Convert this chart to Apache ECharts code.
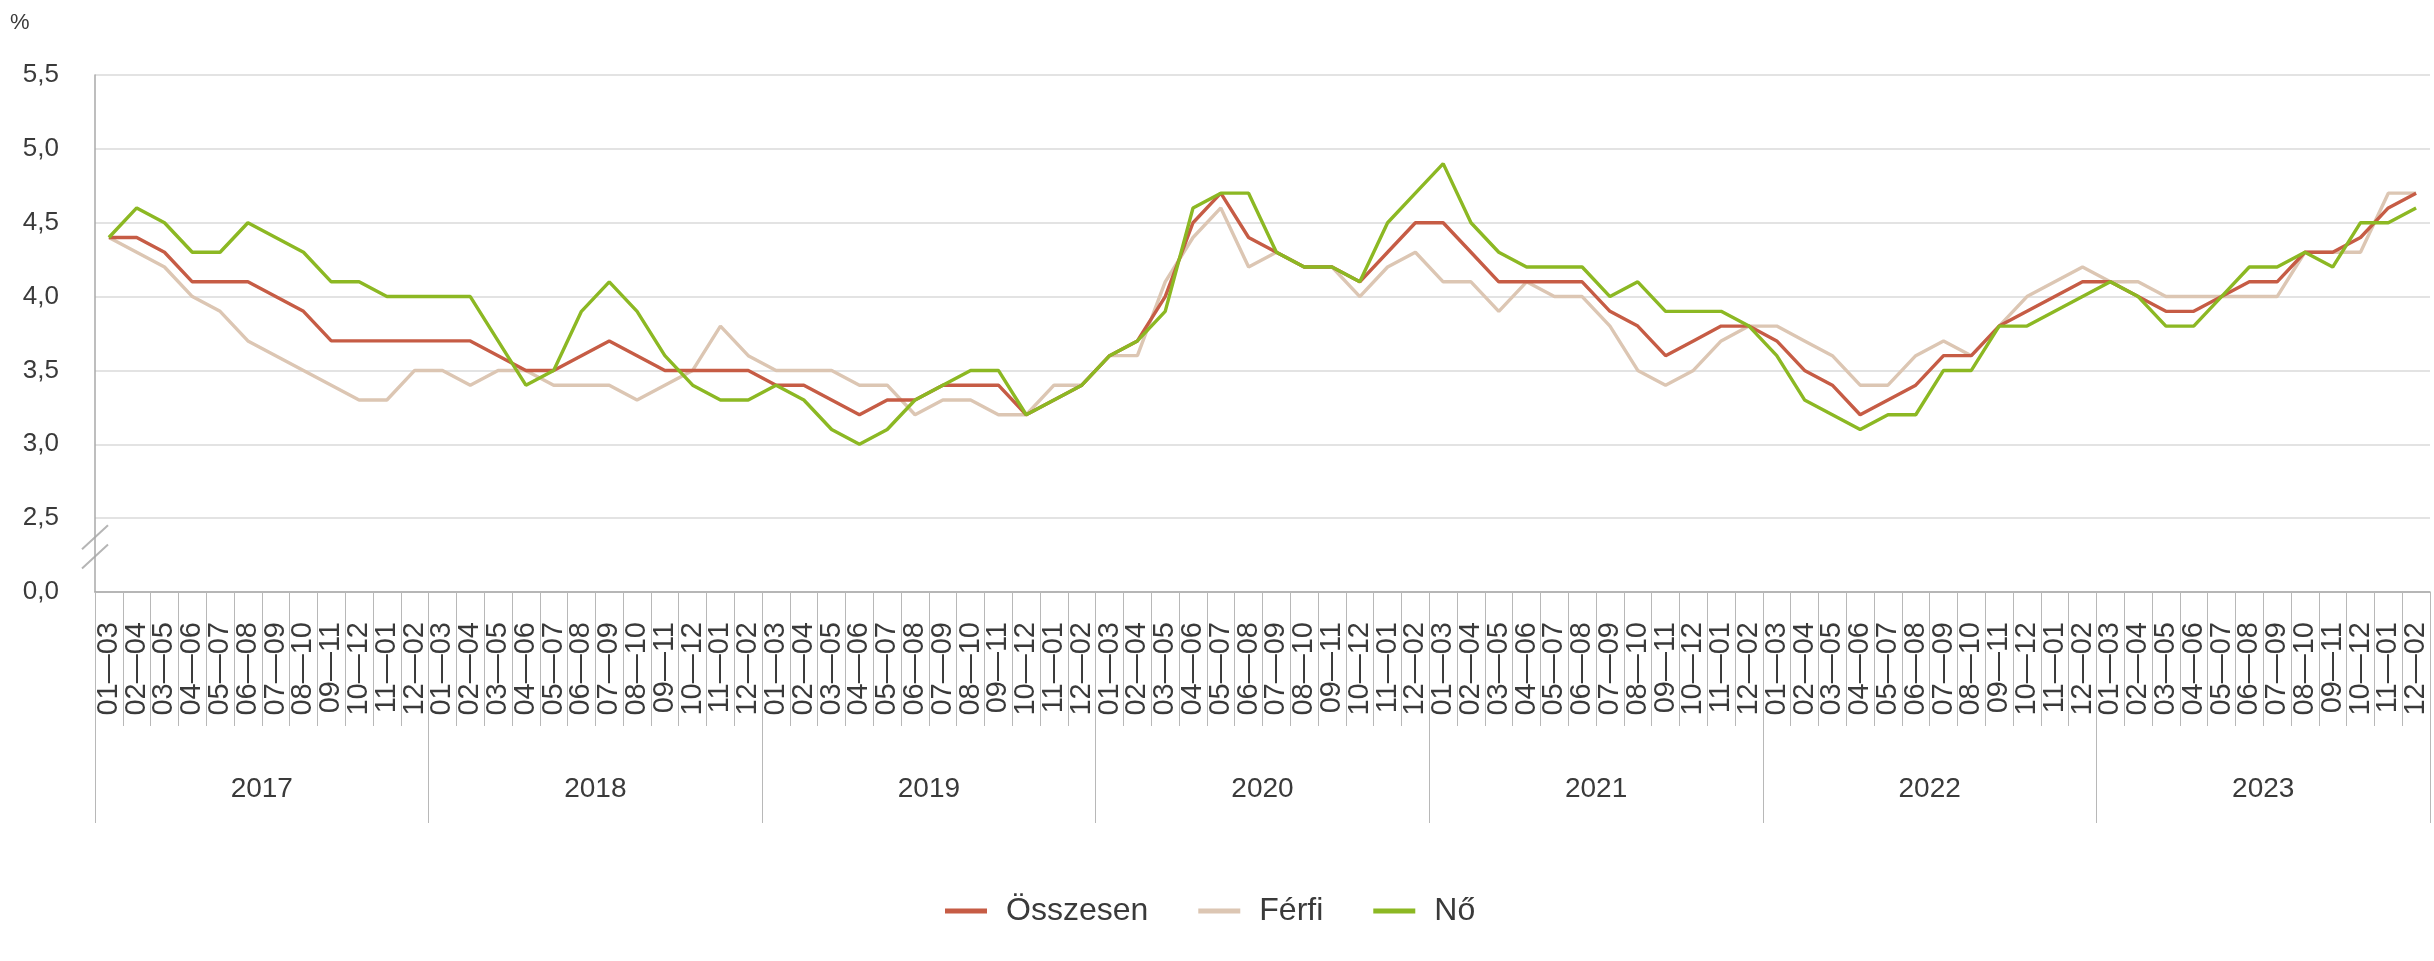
<!DOCTYPE html>
<html>
<head>
<meta charset="utf-8">
<script src="https://cdn.jsdelivr.net/npm/echarts@6/dist/echarts.min.js"></script>
<style>
html,body{margin:0;padding:0;background:#fff;}
#chart{width:2434px;height:961px;}
</style>
</head>
<body>
<div id="chart"></div>
<script>
// ---- data ----
const years = ['2017', '2018', '2019', '2020', '2021', '2022', '2023'];
const periods = ['01—03', '02—04', '03—05', '04—06', '05—07', '06—08', '07—09', '08—10', '09—11', '10—12', '11—01', '12—02'];
const yTickValues = [2, 2.5, 3, 3.5, 4, 4.5, 5, 5.5];
const yTickLabels = ['0,0', '2,5', '3,0', '3,5', '4,0', '4,5', '5,0', '5,5'];
const seriesNames = ['Összesen', 'Férfi', 'Nő'];

const osszesen = [
  4.4, 4.4, 4.3, 4.1, 4.1, 4.1, 4.0, 3.9, 3.7, 3.7, 3.7, 3.7,
  3.7, 3.7, 3.6, 3.5, 3.5, 3.6, 3.7, 3.6, 3.5, 3.5, 3.5, 3.5,
  3.4, 3.4, 3.3, 3.2, 3.3, 3.3, 3.4, 3.4, 3.4, 3.2, 3.3, 3.4,
  3.6, 3.7, 4.0, 4.5, 4.7, 4.4, 4.3, 4.2, 4.2, 4.1, 4.3, 4.5,
  4.5, 4.3, 4.1, 4.1, 4.1, 4.1, 3.9, 3.8, 3.6, 3.7, 3.8, 3.8,
  3.7, 3.5, 3.4, 3.2, 3.3, 3.4, 3.6, 3.6, 3.8, 3.9, 4.0, 4.1,
  4.1, 4.0, 3.9, 3.9, 4.0, 4.1, 4.1, 4.3, 4.3, 4.4, 4.6, 4.7
];
const ferfi = [
  4.4, 4.3, 4.2, 4.0, 3.9, 3.7, 3.6, 3.5, 3.4, 3.3, 3.3, 3.5,
  3.5, 3.4, 3.5, 3.5, 3.4, 3.4, 3.4, 3.3, 3.4, 3.5, 3.8, 3.6,
  3.5, 3.5, 3.5, 3.4, 3.4, 3.2, 3.3, 3.3, 3.2, 3.2, 3.4, 3.4,
  3.6, 3.6, 4.1, 4.4, 4.6, 4.2, 4.3, 4.2, 4.2, 4.0, 4.2, 4.3,
  4.1, 4.1, 3.9, 4.1, 4.0, 4.0, 3.8, 3.5, 3.4, 3.5, 3.7, 3.8,
  3.8, 3.7, 3.6, 3.4, 3.4, 3.6, 3.7, 3.6, 3.8, 4.0, 4.1, 4.2,
  4.1, 4.1, 4.0, 4.0, 4.0, 4.0, 4.0, 4.3, 4.3, 4.3, 4.7, 4.7
];
const no = [
  4.4, 4.6, 4.5, 4.3, 4.3, 4.5, 4.4, 4.3, 4.1, 4.1, 4.0, 4.0,
  4.0, 4.0, 3.7, 3.4, 3.5, 3.9, 4.1, 3.9, 3.6, 3.4, 3.3, 3.3,
  3.4, 3.3, 3.1, 3.0, 3.1, 3.3, 3.4, 3.5, 3.5, 3.2, 3.3, 3.4,
  3.6, 3.7, 3.9, 4.6, 4.7, 4.7, 4.3, 4.2, 4.2, 4.1, 4.5, 4.7,
  4.9, 4.5, 4.3, 4.2, 4.2, 4.2, 4.0, 4.1, 3.9, 3.9, 3.9, 3.8,
  3.6, 3.3, 3.2, 3.1, 3.2, 3.2, 3.5, 3.5, 3.8, 3.8, 3.9, 4.0,
  4.1, 4.0, 3.8, 3.8, 4.0, 4.2, 4.2, 4.3, 4.2, 4.5, 4.5, 4.6
];

// unique category keys (year + period); only the period is shown on the inner axis
const categories = [];
years.forEach(y => periods.forEach(p => categories.push(y + '|' + p)));

const colors = ['#c65c45', '#dcc6b3', '#8cb823'];
const font = '"Liberation Sans", Arial, Helvetica, sans-serif';
const gridGray = '#dadada';
const axisGray = '#a8a8a8';
const textColor = '#3a3a3a';

const chart = echarts.init(document.getElementById('chart'), null, {renderer: 'canvas'});

const option = {
  animation: false,
  backgroundColor: '#ffffff',
  textStyle: {fontFamily: font},
  grid: {left: 95, right: 4, top: 75, bottom: 369, containLabel: false},
  legend: {
    data: seriesNames,
    left: 940,
    top: 890,
    icon: 'rect',
    itemWidth: 42,
    itemHeight: 5,
    itemGap: 50,
    textStyle: {fontSize: 32, color: textColor, fontFamily: font, padding: [0, 0, 0, 14]}
  },
  xAxis: [
    {
      type: 'category',
      data: categories,
      boundaryGap: true,
      position: 'bottom',
      axisLine: {show: true, onZero: false, lineStyle: {color: axisGray, width: 1.5}},
      axisTick: {show: true, interval: 0, length: 134, lineStyle: {color: '#b8b8b8', width: 1}},
      axisLabel: {
        interval: 0, rotate: 90, margin: 30, fontSize: 29, color: textColor, fontFamily: font,
        formatter: v => v.split('|')[1]
      },
      splitLine: {show: false}
    },
    {
      type: 'category',
      data: years,
      boundaryGap: true,
      position: 'bottom',
      axisLine: {show: false, onZero: false},
      axisTick: {show: true, interval: 0, length: 231, lineStyle: {color: '#b8b8b8', width: 1}},
      axisLabel: {interval: 0, margin: 183, fontSize: 28, color: textColor, fontFamily: font},
      splitLine: {show: false}
    }
  ],
  yAxis: {
    type: 'value',
    min: 2,
    max: 5.5,
    interval: 0.5,
    axisLine: {show: true, lineStyle: {color: axisGray, width: 1.5}},
    axisTick: {show: false},
    splitLine: {show: true, lineStyle: {color: gridGray, width: 1.5}},
    axisLabel: {
      margin: 36, fontSize: 26, color: textColor, fontFamily: font,
      formatter: v => {
        const i = yTickValues.findIndex(t => Math.abs(t - v) < 1e-9);
        return i >= 0 ? yTickLabels[i] : '';
      }
    }
  },
  series: [
    {name: seriesNames[0], type: 'line', data: osszesen, xAxisIndex: 0, symbol: 'none',
     lineStyle: {width: 3.4, color: colors[0]}, itemStyle: {color: colors[0]}, z: 3},
    {name: seriesNames[1], type: 'line', data: ferfi, xAxisIndex: 0, symbol: 'none',
     lineStyle: {width: 3.4, color: colors[1]}, itemStyle: {color: colors[1]}, z: 2},
    {name: seriesNames[2], type: 'line', data: no, xAxisIndex: 0, symbol: 'none',
     lineStyle: {width: 3.4, color: colors[2]}, itemStyle: {color: colors[2]}, z: 4}
  ]
};
chart.setOption(option);

// axis-break marks and the "%" unit label
const ax = chart.convertToPixel({xAxisIndex: 0}, 0) - 13.9; // left edge of grid
const y1 = chart.convertToPixel({yAxisIndex: 0}, 2.37);
const y2 = chart.convertToPixel({yAxisIndex: 0}, 2.24);
chart.setOption({
  graphic: [
    {type: 'line', shape: {x1: ax - 13, y1: y1 + 12, x2: ax + 13, y2: y1 - 12}, style: {stroke: '#b5b5b5', lineWidth: 2}},
    {type: 'line', shape: {x1: ax - 13, y1: y2 + 12, x2: ax + 13, y2: y2 - 12}, style: {stroke: '#b5b5b5', lineWidth: 2}},
    {type: 'text', left: 10, top: 12, style: {text: '%', fontSize: 22, fill: textColor, fontFamily: font}}
  ]
});
</script>
</body>
</html>
